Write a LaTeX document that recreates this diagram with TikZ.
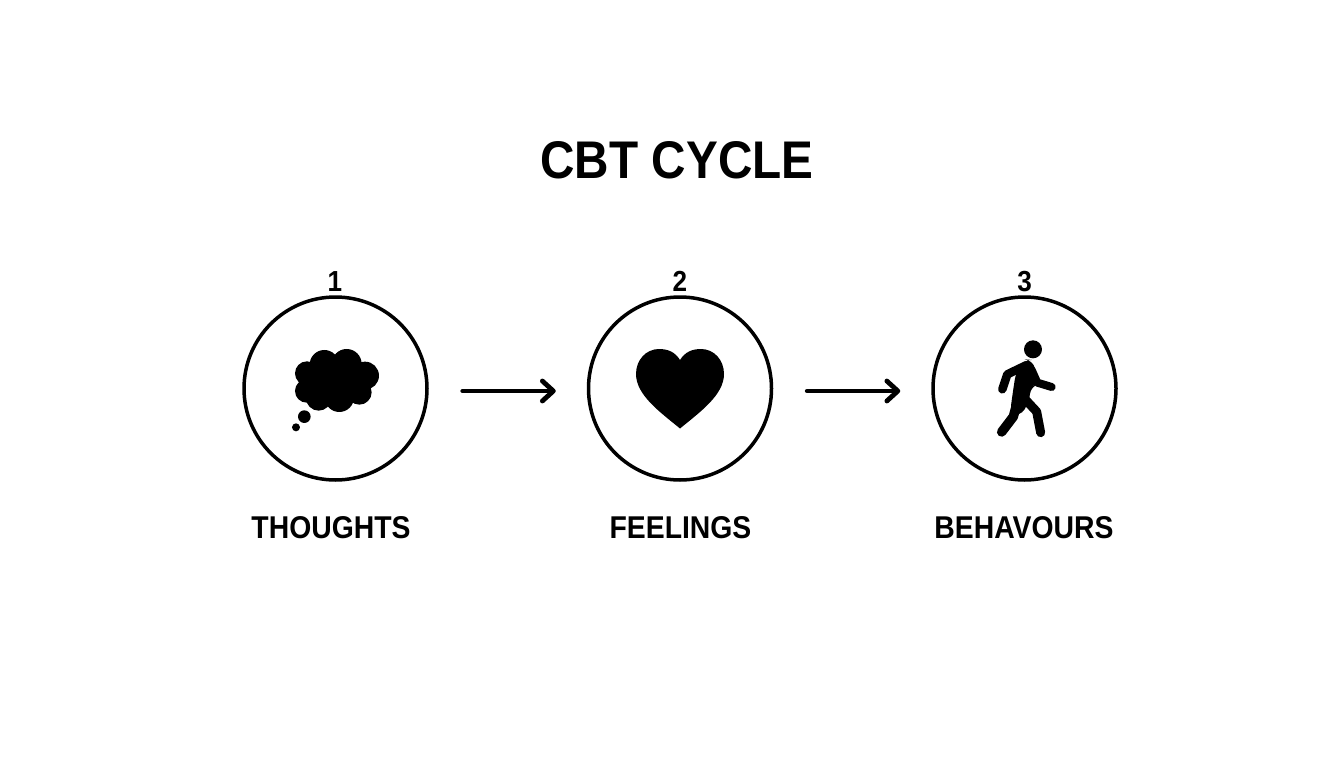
\documentclass[tikz,border=0pt]{standalone}
\usepackage{fontspec}
\setmainfont{Liberation Sans}[BoldFeatures={FakeStretch=0.9}]
\usetikzlibrary{arrows.meta}
\tikzset{
  ring/.style={circle,draw=black,line width=3.5pt,minimum size=183pt,inner sep=0pt,fill=white},
  titletext/.style={anchor=base,inner sep=0pt,font=\fontsize{53}{60}\selectfont\bfseries},
  labeltext/.style={anchor=base,inner sep=0pt,font=\fontsize{31.5}{36}\selectfont\bfseries},
  numtext/.style={anchor=base,inner sep=0pt,font=\fontsize{29}{34}\selectfont\bfseries},
  flow/.style={line width=4.8pt,line cap=round,-{Straight Barb[length=11pt,width=20pt,line cap=round,line join=round]}},
  limb/.style={line cap=round,line join=round,draw=black},
  zoomA/.style={shift={(230,260)},x=0.3333pt,y=-0.3333pt},
  zoomC/.style={shift={(920,260)},x=0.3333pt,y=-0.3333pt}
}
\begin{document}
\begin{tikzpicture}[x=1pt,y=-1pt]
\useasboundingbox[fill=white] (0,0) rectangle (1344,768);
\node[titletext] (title) at (677,178) {CBT CYCLE};
\node[ring] (c1) at (335.5,388.5) {};
\node[ring] (c2) at (680,388.5) {};
\node[ring] (c3) at (1024.5,388.5) {};
\node[numtext] (n1) at (335,291) {1};
\node[numtext] (n2) at (680,291) {2};
\node[numtext] (n3) at (1024.5,291) {3};
\node[labeltext] (l1) at (331,538.5) {THOUGHTS};
\node[labeltext] (l2) at (680.5,538.5) {FEELINGS};
\node[labeltext] (l3) at (1024,538.5) {BEHAVOURS};
\draw[flow,shorten <=34pt,shorten >=31pt] ([yshift=-2.5pt]c1.east) -- ([yshift=-2.5pt]c2.west);
\draw[flow,shorten <=34pt,shorten >=31pt] ([yshift=-2.5pt]c2.east) -- ([yshift=-2.5pt]c3.west);
% thought cloud
\begin{scope}[zoomA]
  \fill (283,314) circle (44);
  \fill (350,312) circle (45);
  \fill (405,347) circle (42);
  \fill (388,397) circle (37);
  \fill (328,412) circle (44);
  \fill (266,414) circle (38);
  \fill (230,393) circle (35);
  \fill (231,340) circle (36);
  \fill (230,320) rectangle (400,420);
  \fill (223,470) circle (19);
  \fill (198,502) circle (12);
\end{scope}
% heart
\fill (680,360) .. controls (675,352) and (668,349) .. (659,349)
  .. controls (646,349) and (636,360) .. (636,374)
  .. controls (636,395) and (660,412) .. (680,428.5)
  .. controls (700,412) and (724,395) .. (724,374)
  .. controls (724,360) and (714,349) .. (701,349)
  .. controls (692,349) and (685,352) .. (680,360) -- cycle;
% walker
\begin{scope}[zoomC]
  \fill (339,268) circle (27);
  \fill[rounded corners=8pt] (312,298) -- (338,300) -- (358,372) -- (332,378) -- (328,425) -- (300,470) -- (270,460) -- (278,400) -- (288,335) -- cycle;
  \draw[limb,line width=8.5pt] (318,316) -- (262,343) -- (247,388);
  \draw[limb,line width=8pt] (335,330) -- (352,368) -- (395,381);
  \draw[limb,line width=9.5pt] (295,415) -- (280,470) -- (245,516);
  \draw[limb,line width=9pt] (310,412) -- (350,455) -- (362,518);
\end{scope}
\end{tikzpicture}
\end{document}
